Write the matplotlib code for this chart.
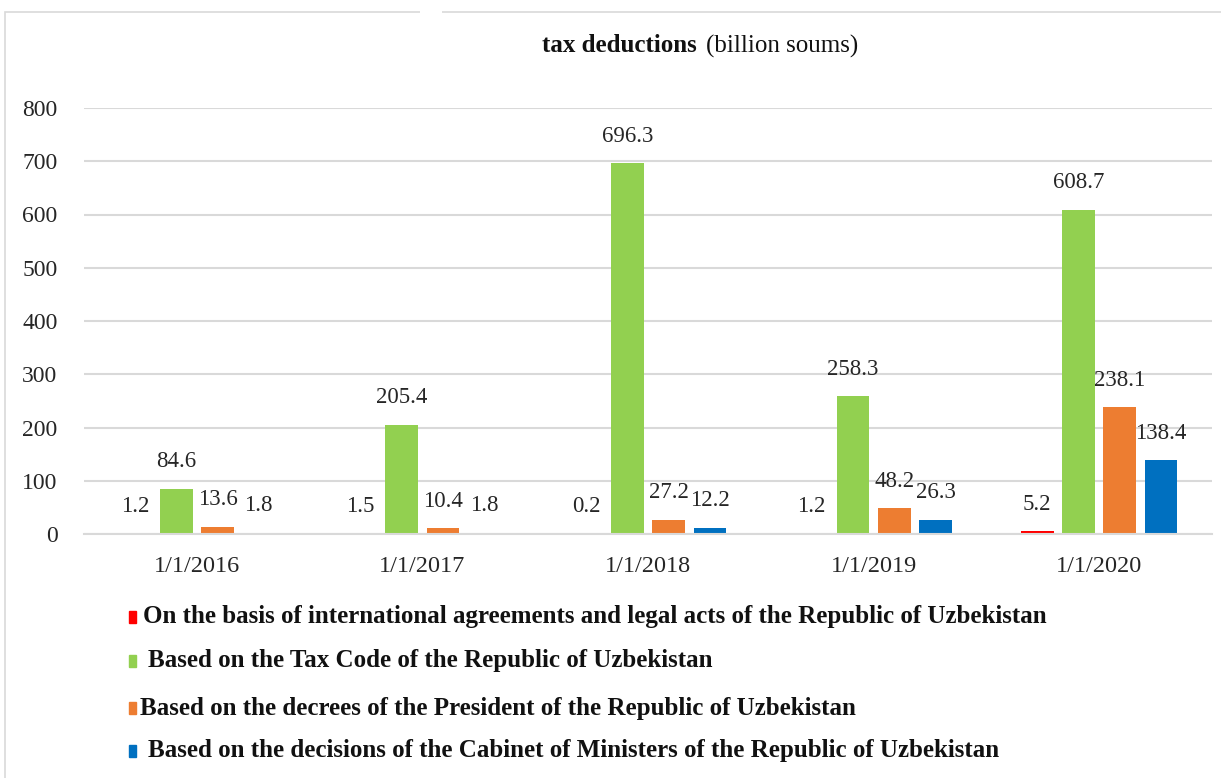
import matplotlib
matplotlib.use("Agg")
import matplotlib.pyplot as plt
from matplotlib.patches import Rectangle
import numpy as np

categories = ["1/1/2016", "1/1/2017", "1/1/2018", "1/1/2019", "1/1/2020"]
series_names = [
    "On the basis of international agreements and legal acts of the Republic of Uzbekistan",
    "Based on the Tax Code of the Republic of Uzbekistan",
    "Based on the decrees of the President of the Republic of Uzbekistan",
    "Based on the decisions of the Cabinet of Ministers of the Republic of Uzbekistan",
]
intl_agreements = [1.2, 1.5, 0.2, 1.2, 5.2]
tax_code = [84.6, 205.4, 696.3, 258.3, 608.7]
president_decrees = [13.6, 10.4, 27.2, 48.2, 238.1]
cabinet_decisions = [1.8, 1.8, 12.2, 26.3, 138.4]
colors = ["#FF0000", "#92D050", "#ED7D31", "#0070C0"]
yticks = [0, 100, 200, 300, 400, 500, 600, 700, 800]

series = [intl_agreements, tax_code, president_decrees, cabinet_decisions]

plt.rcParams['font.family'] = ['Liberation Serif', 'DejaVu Serif']

fig = plt.figure(figsize=(12.21, 7.78), dpi=100)
ax = fig.add_axes([84/1221, (778-534)/778, (1212-84)/1221, (534-108)/778])

x = np.arange(len(categories))
pitch = 0.183
width = 0.145
for i, (vals, col) in enumerate(zip(series, colors)):
    pos = x + (i - 1.5) * pitch
    bars = ax.bar(pos, vals, width=width, color=col, linewidth=0, zorder=3)
    for b, v in zip(bars, vals):
        ax.annotate(f"{v}", (b.get_x() + b.get_width() / 2, v),
                    xytext=(0, 12), textcoords="offset points",
                    ha="center", va="bottom", fontsize=16.5, color="#262626")

ax.set_xlim(-0.5, len(categories) - 0.5)
ax.set_ylim(0, 800)
ax.set_yticks(yticks)
ax.set_yticklabels([str(t) for t in yticks], fontsize=17, color="#262626")
ax.set_xticks(x)
ax.set_xticklabels(categories, fontsize=17.5, color="#262626")
ax.tick_params(axis="both", length=0)
ax.tick_params(axis="y", pad=19)
ax.tick_params(axis="x", pad=16)
ax.yaxis.grid(True, color="#D9D9D9", linewidth=1.5, zorder=0)
for s in ["top", "right", "left"]:
    ax.spines[s].set_visible(False)
ax.spines["bottom"].set_color("#D9D9D9")
ax.spines["bottom"].set_linewidth(1.5)
ax.spines["bottom"].set_zorder(4)

# Title
fig.text(0.5705, 1 - 46/778, "tax deductions", ha="right", va="center",
         fontsize=18, fontweight="bold", color="#111111")
fig.text(0.5785, 1 - 46/778, "(billion soums)", ha="left", va="center",
         fontsize=18, color="#111111")

# Legend
leg_y = [617, 661, 708, 751]
text_x = [143, 148, 140, 148]
for name, col, yy, tx in zip(series_names, colors, leg_y, text_x):
    fig.patches.append(Rectangle((129/1221, 1 - (yy + 6)/778), 7/1221, 12/778,
                                 transform=fig.transFigure, color=col))
    fig.text(tx/1221, 1 - yy/778, name, ha="left", va="center",
             fontsize=18, fontweight="bold", color="#111111")

# Chart frame
fig.patches.append(Rectangle((5/1221, -0.05), 1.2, 1 - 12/778 + 0.05,
                             transform=fig.transFigure, fill=False,
                             edgecolor="#D9D9D9", linewidth=1.2))
fig.patches.append(Rectangle((420/1221, 1 - 16/778), 22/1221, 8/778,
                             transform=fig.transFigure, color="white",
                             linewidth=0, zorder=5))

fig.savefig("out.png", dpi=100)
